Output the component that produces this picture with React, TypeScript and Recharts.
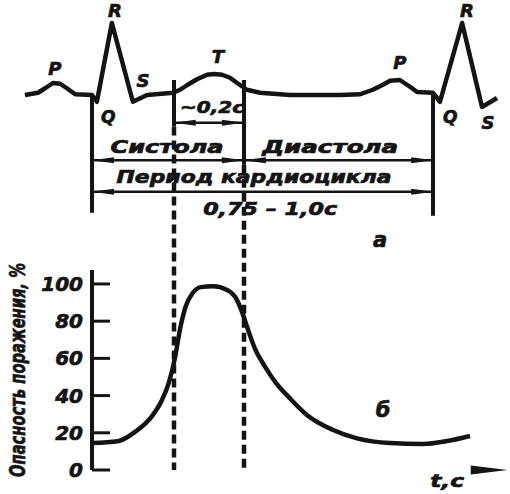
import React from 'react';
import { LineChart, Line, XAxis, YAxis, ReferenceLine, ReferenceDot } from 'recharts';

const INK = '#141414';
const FONT = "'DejaVu Sans', 'Liberation Sans', sans-serif";

// (a) ECG trace: time, s / amplitude, mV
const ecgTimes = [
  -0.179, -0.144, -0.125, -0.104, -0.085, -0.067, -0.045, 0, 0.013, 0.053,
  0.109, 0.147, 0.216, 0.235, 0.253, 0.28, 0.307, 0.325, 0.347, 0.368,
  0.387, 0.413, 0.448, 0.528, 0.661, 0.715, 0.749, 0.773, 0.795, 0.821,
  0.848, 0.867, 0.909, 0.928, 0.987, 1.04, 1.08,
];
const ecgValues = [
  0, 0.03, 0.09, 0.16, 0.15, 0.09, 0.01, 0, -0.09, 0.96,
  -0.09, 0, 0.03, 0.07, 0.13, 0.21, 0.27, 0.28, 0.27, 0.23,
  0.16, 0.07, 0.03, 0, 0, 0.01, 0.07, 0.13, 0.19, 0.2,
  0.11, 0.04, 0.03, -0.09, 0.96, -0.16, -0.04,
];

// (б) danger of injury over the cycle: time, s / %
const riskTimes = [
  0, 0.069, 0.115, 0.16, 0.185, 0.205, 0.221, 0.235, 0.25, 0.268,
  0.29, 0.323, 0.36, 0.385, 0.4, 0.415, 0.435, 0.46, 0.49, 0.528,
  0.573, 0.643, 0.707, 0.795, 0.883, 0.947, 1.008,
];
const riskPercent = [
  14.5, 15.5, 20.5, 29, 37, 47, 60, 76, 88, 95,
  98.3, 98.8, 96.8, 92, 85, 76, 65, 56, 47, 38.5,
  29.6, 21.5, 17, 14.5, 14, 15.6, 18.3,
];
const riskTicks = [0, 20, 40, 60, 80, 100];

// cycle marks, s
const cycleStart = 0;
const cycleEnd = 0.91;
const tStart = 0.218; // start of T
const tEnd = 0.405; // end of T, systole -> diastole

const ecgData = ecgTimes.map((t, i) => ({ t, v: ecgValues[i] }));
const riskData = riskTimes.map((t, i) => ({ t, p: riskPercent[i] }));

const textStyle = {
  fontFamily: FONT,
  fontWeight: 700,
  fontStyle: 'italic' as const,
  fill: INK,
  stroke: INK,
  strokeWidth: 0.7,
};

const textShape = (label: string, size: number, length?: number) => (p: any) => (
  <text
    x={p.cx}
    y={p.cy}
    textAnchor="middle"
    dominantBaseline="central"
    fontSize={size}
    textLength={length}
    lengthAdjust={length ? 'spacingAndGlyphs' : undefined}
    style={textStyle}
  >
    {label}
  </text>
);

const rule = (width: number, dash?: string) => (p: any) => (
  <line
    x1={Math.round(p.x1)}
    y1={p.y1}
    x2={Math.round(p.x2)}
    y2={p.y2}
    stroke={INK}
    strokeWidth={width}
    strokeDasharray={dash}
  />
);

const arrowLine = (p: any) => {
  const { x1, y1, x2, y2 } = p;
  const a = Math.min(x1, x2);
  const b = Math.max(x1, x2);
  const L = 22;
  const w = 3;
  return (
    <g>
      <line x1={a} y1={y1} x2={b} y2={y2} stroke={INK} strokeWidth={2.5} />
      <polygon points={`${a},${y1} ${a + L},${y1 - w} ${a + L},${y1 + w}`} fill={INK} />
      <polygon points={`${b},${y2} ${b - L},${y2 - w} ${b - L},${y2 + w}`} fill={INK} />
    </g>
  );
};

const axisArrow = (p: any) => {
  const { x1, y1, x2 } = p;
  return <polygon points={`${x2 + 3},${y1} ${x1},${y1 - 4.5} ${x1},${y1 + 4.5}`} fill={INK} />;
};

const renderRiskTick = (p: any) => {
  const { x, y, payload } = p;
  return (
    <g>
      <line x1={x} y1={y} x2={x + 18} y2={y} stroke={INK} strokeWidth={3} />
      <text x={x - 9} y={y} textAnchor="end" dominantBaseline="central" fontSize={20} style={textStyle}>
        {payload.value}
      </text>
    </g>
  );
};

const renderRiskLabel = (p: any) => {
  const vb = p.viewBox;
  const cx = vb.x + 6;
  const cy = vb.y + vb.height / 2;
  return (
    <text
      x={cx}
      y={cy}
      transform={`rotate(-90 ${cx} ${cy})`}
      textAnchor="middle"
      dominantBaseline="central"
      fontSize={21}
      textLength={214}
      lengthAdjust="spacingAndGlyphs"
      style={textStyle}
    >
      Опасность поражения, %
    </text>
  );
};

// annotation levels on the ECG amplitude scale
const LVL_TOP = 0.2;
const LVL_T_BAR = -0.37;
const LVL_T_SOLID = -0.42;
const LVL_SYSTOLE = -0.87;
const LVL_DIV_SOLID = -0.93;
const LVL_CYCLE = -1.29;
const LVL_CYCLE_END = -1.57;
const LVL_AXIS = -5;

export default function App() {
  return (
    <div style={{ position: 'absolute', left: 0, top: 0, width: 510, height: 494, background: '#fff' }}>
      <div style={{ position: 'absolute', left: 0, top: 0 }}>
        <LineChart width={510} height={494} margin={{ top: 5, right: 5.5, bottom: 0, left: 2 }}>
          <XAxis type="number" dataKey="t" domain={[-0.24, 1.1]} allowDataOverflow hide />
          <YAxis type="number" domain={[-5.32, 1.2]} allowDataOverflow hide />

          {/* T window and cycle brackets */}
          <ReferenceLine segment={[{ x: tStart, y: LVL_TOP }, { x: tStart, y: LVL_T_SOLID }]} shape={rule(4)} />
          <ReferenceLine segment={[{ x: tEnd, y: LVL_TOP }, { x: tEnd, y: LVL_DIV_SOLID }]} shape={rule(4)} />
          <ReferenceLine segment={[{ x: tStart, y: LVL_T_SOLID }, { x: tStart, y: LVL_AXIS }]} shape={rule(4.5, '9 5')} />
          <ReferenceLine segment={[{ x: tEnd, y: LVL_DIV_SOLID }, { x: tEnd, y: LVL_AXIS }]} shape={rule(4.5, '9 5')} />
          <ReferenceLine segment={[{ x: cycleStart, y: 0 }, { x: cycleStart, y: LVL_CYCLE_END }]} shape={rule(4)} />
          <ReferenceLine segment={[{ x: cycleEnd, y: 0.03 }, { x: cycleEnd, y: LVL_CYCLE_END - 0.04 }]} shape={rule(4)} />

          <ReferenceLine segment={[{ x: tStart, y: LVL_T_BAR }, { x: tEnd, y: LVL_T_BAR }]} shape={arrowLine} />
          <ReferenceLine segment={[{ x: cycleStart, y: LVL_SYSTOLE }, { x: tEnd, y: LVL_SYSTOLE }]} shape={arrowLine} />
          <ReferenceLine segment={[{ x: tEnd, y: LVL_SYSTOLE }, { x: cycleEnd, y: LVL_SYSTOLE }]} shape={arrowLine} />
          <ReferenceLine segment={[{ x: cycleStart, y: LVL_CYCLE }, { x: cycleEnd, y: LVL_CYCLE }]} shape={arrowLine} />

          <Line
            data={ecgData}
            dataKey="v"
            type="linear"
            stroke={INK}
            strokeWidth={4.5}
            strokeLinejoin="round"
            dot={false}
            isAnimationActive={false}
          />

          {/* wave names */}
          <ReferenceDot x={-0.099} y={0.36} r={0} shape={textShape('P', 18)} />
          <ReferenceDot x={0.061} y={1.13} r={0} shape={textShape('R', 18)} />
          <ReferenceDot x={0.043} y={-0.29} r={0} shape={textShape('Q', 17)} />
          <ReferenceDot x={0.136} y={0.2} r={0} shape={textShape('S', 18)} />
          <ReferenceDot x={0.336} y={0.51} r={0} shape={textShape('T', 18)} />
          <ReferenceDot x={0.821} y={0.43} r={0} shape={textShape('P', 18)} />
          <ReferenceDot x={1.0} y={1.13} r={0} shape={textShape('R', 18)} />
          <ReferenceDot x={0.955} y={-0.29} r={0} shape={textShape('Q', 17)} />
          <ReferenceDot x={1.056} y={-0.37} r={0} shape={textShape('S', 18)} />

          {/* interval captions */}
          <ReferenceDot x={0.32} y={-0.17} r={0} shape={textShape('~0,2с', 16, 64)} />
          <ReferenceDot x={0.2} y={-0.69} r={0} shape={textShape('Систола', 17, 113)} />
          <ReferenceDot x={0.635} y={-0.69} r={0} shape={textShape('Диастола', 17, 136)} />
          <ReferenceDot x={0.432} y={-1.09} r={0} shape={textShape('Период кардиоцикла', 17, 275)} />
          <ReferenceDot x={0.475} y={-1.51} r={0} shape={textShape('0,75 – 1,0с', 18, 134)} />
          <ReferenceDot x={0.768} y={-1.93} r={0} shape={textShape('а', 21)} />
          <ReferenceDot x={0.947} y={-5.14} r={0} shape={textShape('t,с', 18, 34)} />
        </LineChart>
      </div>

      <div style={{ position: 'absolute', left: 0, top: 0 }}>
        <LineChart width={510} height={494} margin={{ top: 270, right: 5.5, bottom: 24, left: 12 }}>
          <XAxis
            type="number"
            dataKey="t"
            domain={[0, 1.1]}
            allowDataOverflow
            height={0}
            tick={false}
            tickLine={false}
            axisLine={{ stroke: INK, strokeWidth: 3.5 }}
          />
          <YAxis
            type="number"
            domain={[0, 107.5]}
            allowDataOverflow
            ticks={riskTicks}
            width={80}
            tickSize={0}
            tickMargin={0}
            tickLine={false}
            tick={renderRiskTick}
            axisLine={{ stroke: INK, strokeWidth: 4 }}
            label={renderRiskLabel}
          />
          <ReferenceLine segment={[{ x: 1.01, y: 0 }, { x: 1.1, y: 0 }]} shape={axisArrow} />
          <Line
            data={riskData}
            dataKey="p"
            type="monotone"
            stroke={INK}
            strokeWidth={4.5}
            dot={false}
            isAnimationActive={false}
          />
          <ReferenceDot x={0.776} y={32} r={0} shape={textShape('б', 21)} />
        </LineChart>
      </div>
    </div>
  );
}
